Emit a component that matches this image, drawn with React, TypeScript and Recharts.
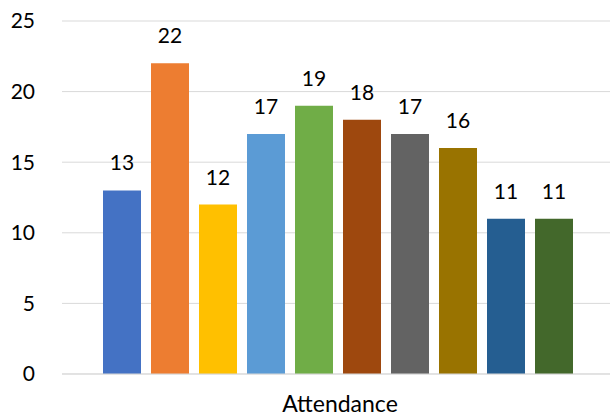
import { BarChart, Bar, XAxis, YAxis, CartesianGrid, LabelList } from "recharts";

const categories = ["Attendance"];
const seriesKeys = ["s1", "s2", "s3", "s4", "s5", "s6", "s7", "s8", "s9", "s10"];
const seriesValues = [13, 22, 12, 17, 19, 18, 17, 16, 11, 11];
const seriesColors = [
  "#4472C4",
  "#ED7D31",
  "#FFC000",
  "#5B9BD5",
  "#70AD47",
  "#9E480E",
  "#636363",
  "#997300",
  "#255E91",
  "#43682B",
];
const yTicks = [0, 5, 10, 15, 20, 25];

const data = categories.map((name) => {
  const row: Record<string, string | number> = { name };
  seriesKeys.forEach((key, i) => {
    row[key] = seriesValues[i];
  });
  return row;
});

const font = "Lato, 'Open Sans', sans-serif";

export default function App() {
  return (
    <div style={{ position: "absolute", left: 0, top: 0, width: 610, height: 419, overflow: "hidden", background: "#fff" }}>
      <BarChart
        width={626}
        height={419}
        data={data}
        margin={{ top: 21, right: 8, left: 0, bottom: 0 }}
        barCategoryGap={41}
        barGap={10}
      >
        <CartesianGrid vertical={false} stroke="#D9D9D9" strokeWidth={1} />
        <XAxis
          dataKey="name"
          height={45}
          axisLine={{ stroke: "#D9D9D9" }}
          tickLine={false}
          tickSize={0}
          tickMargin={22}
          tick={{ fill: "#000", fontSize: 23, fontFamily: font }}
        />
        <YAxis
          width={62}
          domain={[0, 25]}
          ticks={yTicks}
          axisLine={false}
          tickLine={false}
          tickSize={0}
          tickMargin={27}
          tick={{ fill: "#000", fontSize: 21, fontFamily: font }}
        />
        {seriesKeys.map((key, i) => (
          <Bar key={key} dataKey={key} fill={seriesColors[i]} isAnimationActive={false}>
            <LabelList dataKey={key} position="top" offset={20} fill="#000" fontSize={21} fontFamily={font} />
          </Bar>
        ))}
      </BarChart>
    </div>
  );
}
